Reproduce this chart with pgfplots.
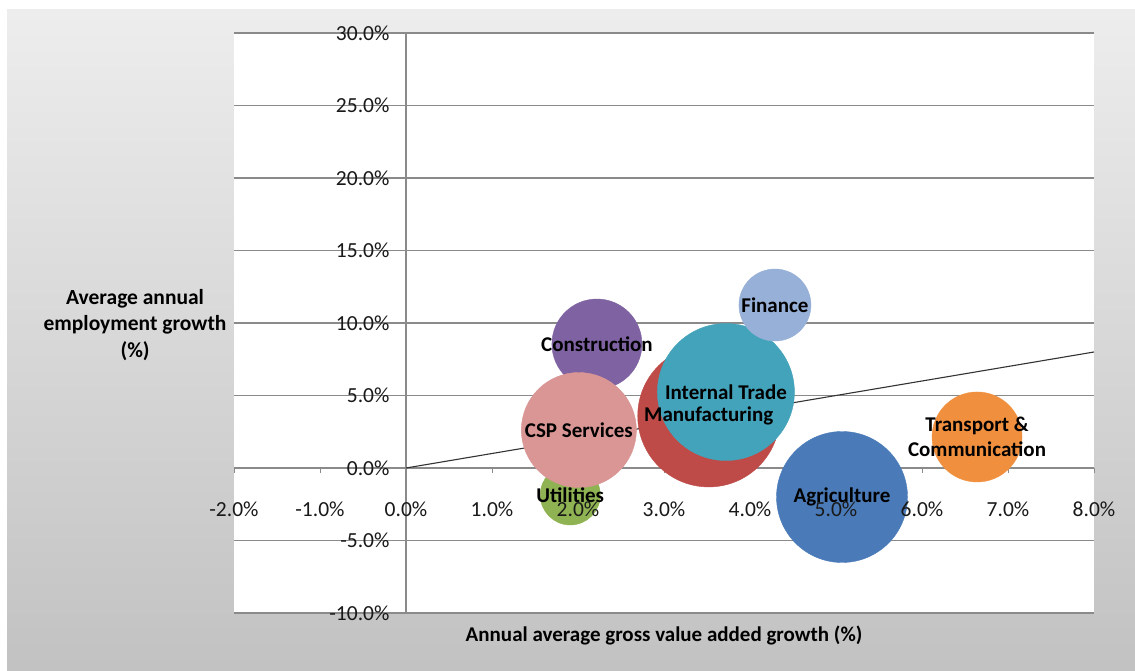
\documentclass[border=0pt]{standalone}
\usepackage{pgfplots}
\pgfplotsset{compat=1.18}
\usepackage{fontspec}
\setmainfont{Carlito}

% Sector colours
\definecolor{cConstr}{HTML}{7E62A1}
\definecolor{cFin}{HTML}{97B0D8}
\definecolor{cTrade}{HTML}{43A3BA}
\definecolor{cManuf}{HTML}{BE4B48}
\definecolor{cCSP}{HTML}{D99694}
\definecolor{cUtil}{HTML}{8FB252}
\definecolor{cAgri}{HTML}{4A7BB8}
\definecolor{cTrans}{HTML}{F0903F}
\definecolor{gridgray}{HTML}{8A8A8A}

% shared frame of the bubble chart
\pgfplotsset{
  bubbleframe/.style={
    at={(234pt,57pt)}, anchor=south west,
    width=860pt, height=580pt, scale only axis,
    xmin=-2, xmax=8, ymin=-10, ymax=30,
    axis x line=middle, axis y line=middle,
    xtick={-2,-1,...,8},
    ytick={-10,-5,...,30},
    hide obscured x ticks=false, hide obscured y ticks=false,
    /pgf/number format/assume math mode=true,
    xticklabel={\pgfmathprintnumber[fixed,fixed zerofill,precision=1]{\tick}\%},
    yticklabel={\pgfmathprintnumber[fixed,fixed zerofill,precision=1]{\tick}\%},
    tick label style={font=\fontsize{21.5}{25}\selectfont, text=black!90},
    x tick label style={anchor=north, yshift=-30pt},
    y tick label style={anchor=east, xshift=-13pt},
    clip=false,
  },
}

% one bubble: x, y, radius, colour
\newcommand\bubble[4]{%
  \addplot[only marks, mark=*, mark size=#3pt, color=#4,
           mark options={draw=none, fill=#4}] coordinates {(#1,#2)};}
% one centred label: x, y, text
\newcommand\bubblelabel[3]{%
  \addplot[draw=none, mark=none, nodes near coords={#3},
           nodes near coords style={anchor=center, align=center,
             font=\fontsize{21}{25}\selectfont\bfseries, text=black}]
           coordinates {(#1,#2)};}

\begin{document}
\begin{tikzpicture}
  % canvas
  \fill[white] (0pt,0pt) rectangle (1135pt,670pt);
  \shade[top color=black!7, bottom color=black!24] (7pt,0pt) rectangle (1135pt,660pt);

  % grid, axes, bubbles and labels
  \begin{axis}[
    bubbleframe,
    axis line style={-, draw=gridgray, line width=1.1pt},
    axis background/.style={fill=white},
    xticklabels={}, yticklabels={},
    tick style={draw=gridgray, line width=1pt},
    tick align=outside, major tick length=5pt,
    ymajorgrids,
    grid style={draw=gridgray, line width=1.1pt},
    every axis x label/.style={at={(axis description cs:0.5,-0.038)}, anchor=center,
      font=\fontsize{21}{25}\selectfont\bfseries},
    every axis y label/.style={at={(axis description cs:-0.115,0.497)}, anchor=center,
      align=center, font=\fontsize{21.5}{26.5}\selectfont\bfseries},
    xlabel={Annual average gross value added growth (\%)},
    ylabel={Average annual\\employment growth\\(\%)},
  ]
    % bubbles: x = GVA growth (%), y = employment growth (%)
    \bubble{1.91}{-1.86}{30}{cUtil}
    \bubble{3.52}{3.59}{71}{cManuf}
    \bubble{3.72}{5.24}{68.5}{cTrade}
    \bubble{4.29}{11.24}{36}{cFin}
    \bubble{5.07}{-2.00}{65.5}{cAgri}
    \bubble{2.22}{8.55}{45}{cConstr}
    \bubble{2.01}{2.62}{57.5}{cCSP}
    \bubble{6.64}{2.14}{45}{cTrans}

    % reference line y = x
    \addplot[draw=black!80, line width=1.1pt, mark=none] coordinates {(0,0) (8,8)};

    % labels
    \bubblelabel{1.91}{-1.86}{Utilities}
    \bubblelabel{3.52}{3.59}{Manufacturing}
    \bubblelabel{3.72}{5.24}{Internal Trade}
    \bubblelabel{4.29}{11.24}{Finance}
    \bubblelabel{5.07}{-2.00}{Agriculture}
    \bubblelabel{2.22}{8.55}{Construction}
    \bubblelabel{2.01}{2.62}{CSP Services}
    \bubblelabel{6.64}{2.14}{Transport \&\\Communication}
  \end{axis}

  % tick labels, set over the bubbles
  \begin{axis}[
    bubbleframe,
    axis line style={draw=none},
    major tick length=0pt,
  ]
  \end{axis}
\end{tikzpicture}
\end{document}
